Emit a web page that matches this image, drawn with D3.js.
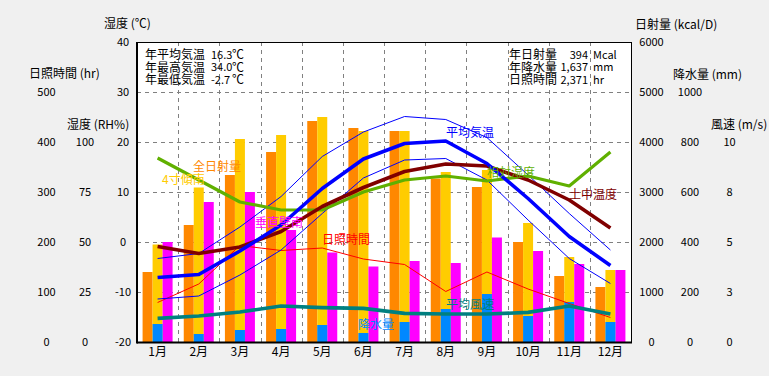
<!DOCTYPE html>
<html><head><meta charset="utf-8">
<script src="https://cdn.jsdelivr.net/npm/d3@7"></script>
<style>
html,body{margin:0;padding:0;background:#f0f0f0;}
svg{display:block;font-family:"Noto Sans CJK JP","Noto Sans",sans-serif;}
</style></head><body>
<svg id="c" width="769" height="376"></svg>
<script>
// ---- data ----
const months = ["1月","2月","3月","4月","5月","6月","7月","8月","9月","10月","11月","12月"];
const solarGlobal = [1400, 2340, 3340, 3800, 4420, 4280, 4220, 3270, 3100, 2000, 1320, 1100]; // 全日射量 kcal/D
const solarTilt   = [1950, 3090, 4060, 4140, 4500, 4220, 4220, 3400, 3440, 2380, 1700, 1440]; // 4寸傾南
const solarWall   = [2000, 2800, 3000, 2240, 1790, 1510, 1620, 1580, 2090, 1820, 1560, 1440]; // 垂直壁南
const precip      = [72, 32, 48, 52, 68, 36, 80, 132, 192, 104, 160, 80];                     // 降水量 mm
const tempAvg     = [-7.1, -6.5, -1.8, 3.4, 10.7, 16.6, 19.7, 20.2, 15.7, 8.7, 1.1, -4.7];
const tempMax     = [-3.3, -2.3, 3.0, 9.1, 17.1, 22.0, 25.1, 24.5, 20.9, 13.4, 5.7, -1.6];
const tempMin     = [-11.4, -10.8, -6.6, -1.6, 5.7, 12.8, 16.4, 16.7, 12.4, 4.4, -3.3, -8.3];
const soilTemp    = [-0.9, -2.3, -1.0, 2.1, 7.1, 10.9, 14.1, 15.6, 15.2, 12.4, 8.4, 2.8];
const humidity    = [92, 81, 70, 66, 66, 75, 81, 83, 80.5, 83, 78, 95];
const sunshine    = [79, 116, 193, 183, 188, 166, 155, 101, 140, 106, 77, 49];
const wind        = [1.18, 1.3, 1.5, 1.8, 1.72, 1.68, 1.43, 1.4, 1.4, 1.48, 1.8, 1.4];

const tempTicks  = [-20,-10,0,10,20,30,40];
const hrTicks    = [0,100,200,300,400,500];
const rhTicks    = [0,25,50,75,100];
const solarTicks = [0,1000,2000,3000,4000,5000,6000];
const precTicks  = [0,200,400,600,800,1000];
const windTicks  = [0,2.5,5,7.5,10];

const summaryL = [["年平均気温","16.3","℃"],["年最高気温","34.0","℃"],["年最低気温","-2.7","℃"]];
const summaryR = [["年日射量","394","Mcal"],["年降水量","1,637","mm"],["日照時間","2,371","hr"]];

// ---- layout ----
const L = 137, R = 631, T = 42, B = 342;
const svg = d3.select("#c");
const FS = 12, FN = 11;

const x = d3.scaleBand().domain(months).range([L, R]).padding(0);
const cx = m => x(m) + x.bandwidth()/2;
const yT = d3.scaleLinear().domain([-20,40]).range([B,T]);
const yHr = d3.scaleLinear().domain([0,600]).range([B,T]);
const yRH = d3.scaleLinear().domain([0,150]).range([B,T]);
const yS = d3.scaleLinear().domain([0,6000]).range([B,T]);
const yP = d3.scaleLinear().domain([0,1200]).range([B,T]);
const yW = d3.scaleLinear().domain([0,15]).range([B,T]);

svg.append("rect").attr("width",769).attr("height",376).attr("fill","#f0f0f0");
svg.append("rect").attr("x",L).attr("y",T).attr("width",R-L).attr("height",B-T).attr("fill","#fff");

// gridlines
const grid = svg.append("g").attr("stroke","#808080").attr("stroke-dasharray","4,4").attr("stroke-width",1);
[30,20,10,0,-10].forEach(v=>{
  grid.append("line").attr("x1",L).attr("x2",R).attr("y1",Math.round(yT(v))+0.5).attr("y2",Math.round(yT(v))+0.5);
});
months.slice(1).forEach(m=>{
  const xx = Math.round(x(m))+0.5;
  grid.append("line").attr("x1",xx).attr("x2",xx).attr("y1",T).attr("y2",B);
});

// bars
function bars(data, off, color, scale){
  svg.append("g").selectAll("rect").data(data).join("rect")
    .attr("x",(d,i)=>cx(months[i])+off)
    .attr("width",10)
    .attr("y",d=>scale(d))
    .attr("height",d=>B-scale(d))
    .attr("fill",color);
}
bars(solarGlobal,-15,"#ff8800",yS);
bars(solarTilt,-5,"#ffcc00",yS);
bars(solarWall,5,"#ff00ff",yS);
bars(precip,-5,"#0088ff",yP);

// lines
function line(data, scale, color, w){
  const g = d3.line().x((d,i)=>cx(months[i])).y(d=>scale(d));
  svg.append("path").datum(data).attr("d",g).attr("fill","none")
    .attr("stroke",color).attr("stroke-width",w).attr("stroke-linejoin","round");
}
line(sunshine,yHr,"#ff0000",1);
line(tempMax,yT,"#0000ff",1);
line(tempMin,yT,"#0000ff",1);
line(humidity,yRH,"#60b000",3.2);
line(soilTemp,yT,"#800000",3.6);
line(tempAvg,yT,"#0000ff",3.6);
line(wind,yW,"#008080",3.6);

// border
svg.append("rect").attr("x",L+0.5).attr("y",T+0.5).attr("width",R-L).attr("height",B-T)
  .attr("fill","none").attr("stroke","#000").attr("stroke-width",1);
svg.append("line").attr("x1",L).attr("x2",L).attr("y1",T).attr("y2",B+1.5).attr("stroke","#000").attr("stroke-width",2);
svg.append("line").attr("x1",L).attr("x2",R+1).attr("y1",B+0.5).attr("y2",B+0.5).attr("stroke","#000").attr("stroke-width",2);

// axes
function vaxis(scale, ticks, xc, fmt){
  const ax = d3.axisLeft(scale).tickValues(ticks).tickSize(0).tickFormat(fmt||(d=>d));
  const g = svg.append("g").attr("transform",`translate(${xc},0)`).call(ax);
  g.select(".domain").remove();
  g.selectAll("text").attr("x",0).attr("dy","0.35em").attr("text-anchor","middle")
    .attr("font-size",FN).attr("fill","#000").attr("font-family","Noto Sans CJK JP");
}
vaxis(yHr, hrTicks, 46.5);
vaxis(yRH, rhTicks, 85);
vaxis(yT, tempTicks, 123);
vaxis(yS, solarTicks, 651.5);
vaxis(yP, precTicks, 690);
vaxis(yW, windTicks, 729.5, d=>Math.round(d));

const xa = svg.append("g").attr("transform",`translate(0,${B})`).call(d3.axisBottom(x).tickSize(0));
xa.select(".domain").remove();
xa.selectAll("text").attr("y",10).attr("dy","0.35em").attr("font-size",FS).attr("fill","#000").attr("font-family","Noto Sans CJK JP");

// text helper
function txt(s, xx, yy, color, anchor, fs){
  svg.append("text").attr("x",xx).attr("y",yy).attr("dy","0.35em")
    .attr("text-anchor",anchor||"start").attr("font-size",fs||FS).attr("fill",color||"#000").text(s);
}
// axis titles
txt("湿度 (℃)",104,24);
txt("日照時間 (hr)",29,74);
txt("湿度 (RH%)",67,125);
txt("日射量 (kcal/D)",635,24.5);
txt("降水量 (mm)",673,74.5);
txt("風速 (m/s)",711,125);

// summary boxes
summaryL.forEach((r,i)=>{ const yy=55+i*12.5; txt(r[0],145,yy); txt(r[1],211,yy,"#000","start",FN); txt(r[2],232,yy); });
summaryR.forEach((r,i)=>{ const yy=55+i*12.5; txt(r[0],509,yy); txt(r[1],588,yy,"#000","end",FN); txt(r[2],593,yy,"#000","start",FN); });

// series labels
txt("全日射量",193,167,"#ff8800");
txt("4寸傾南",162,180,"#ffcc00");
txt("垂直壁南",255,223,"#ff00ff");
txt("日照時間",322,239.5,"#ff0000");
txt("平均気温",446,132.5,"#0000ff");
txt("相対湿度",487,173,"#60b000");
txt("土中温度",569,194.5,"#800000");
txt("平均風速",446,305,"#008080");
txt("降水量",358,324.5,"#0088ff");
</script></body></html>
